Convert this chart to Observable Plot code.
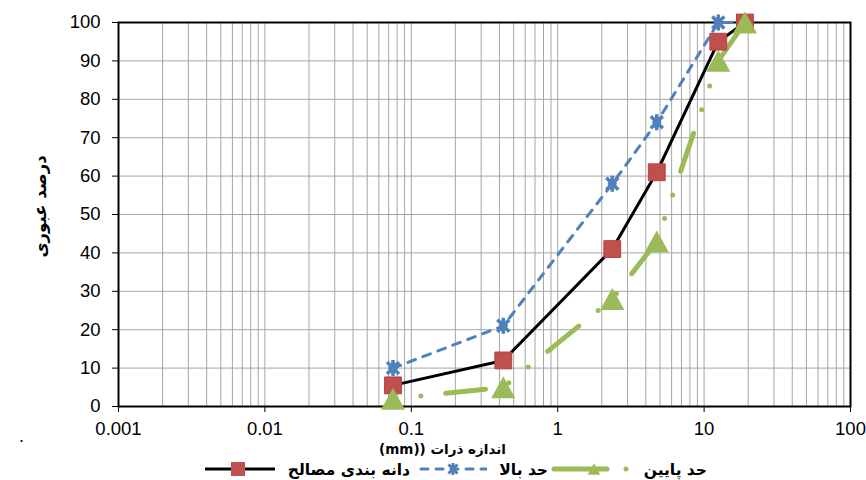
<!DOCTYPE html>
<html><head><meta charset="utf-8">
<script src="https://cdn.jsdelivr.net/npm/d3@7"></script>
<script src="https://cdn.jsdelivr.net/npm/@observablehq/plot@0.6"></script>
<style>
body{margin:0;background:#fff;}
#wrap{position:relative;width:866px;height:480px;overflow:hidden;background:#fff;font-family:"Liberation Sans",Arial,sans-serif;}
#chart{position:absolute;left:0;top:0;}
.lg{position:absolute;top:459px;height:20px;display:flex;align-items:center;}
.lt{position:absolute;top:461px;height:18px;line-height:18px;font-family:"DejaVu Sans",sans-serif;font-weight:bold;font-size:15.5px;direction:rtl;white-space:nowrap;}
#stray{position:absolute;left:19px;top:426px;font-size:18px;}
</style></head><body>
<div id="wrap"><div id="chart"></div><div id="legend"></div><div id="stray">.</div></div>
<script>
// ---- data ----
const sieveSizes = [0.075, 0.425, 2.36, 4.75, 12.5, 19];
const gradation  = [5.5, 12, 41, 61, 95, 100];
const upperLimit = [10, 21, 58, 74, 100, 100];
const lowerLimit = [2, 5, 28, 43, 90, 100];
const seriesNames = ["دانه بندی مصالح", "حد بالا", "حد پایین"];
const xTicks = [0.001, 0.01, 0.1, 1, 10, 100];
const yTicks = [0, 10, 20, 30, 40, 50, 60, 70, 80, 90, 100];
const xTitle = "اندازه ذرات ((mm)";
const yTitle = "درصد عبوری";

const RED = "#C0504D", BLUE = "#4F81BD", GREEN = "#9BBB59";

const gridX = xTicks.slice(0, -1).flatMap(d => [1,2,3,4,5,6,7,8,9].map(k => +(k * d).toPrecision(3))).concat([xTicks[xTicks.length-1]]);

const rows = (vals) => sieveSizes.map((s, i) => ({x: s, y: vals[i]}));
const gData = rows(gradation), uData = rows(upperLimit), lData = rows(lowerLimit);

// custom symbols
const triBox = {draw(ctx, size) {
  const r = Math.sqrt(size / Math.PI);
  const w = r * 2.1, h = r * 1.9;
  ctx.moveTo(0, -h / 2); ctx.lineTo(w / 2, h / 2); ctx.lineTo(-w / 2, h / 2); ctx.closePath();
}};
const starX = {draw(ctx, size) {
  const r = Math.sqrt(size / Math.PI);
  const d = r * 0.75;
  ctx.moveTo(0, -r); ctx.lineTo(0, r);
  ctx.moveTo(-d, -d); ctx.lineTo(d, d);
  ctx.moveTo(-d, d); ctx.lineTo(d, -d);
}};

const chart = Plot.plot({
  width: 866, height: 458,
  marginLeft: 118, marginRight: 16, marginTop: 22, marginBottom: 52,
  style: {fontFamily: "'Liberation Sans', Arial, sans-serif", fontSize: "18.5px", color: "#000", background: "#fff", overflow: "visible"},
  x: {type: "log", domain: [0.001, 100]},
  y: {domain: [0, 100]},
  marks: [
    Plot.ruleX(gridX, {stroke: "#a6a6a6", strokeWidth: 1}),
    Plot.ruleY(yTicks, {stroke: "#a6a6a6", strokeWidth: 1}),
    Plot.axisX(xTicks, {tickSize: 6, tickPadding: 9, tickFormat: d => String(d), label: null, stroke: "#000"}),
    Plot.axisY(yTicks, {tickSize: 6, tickPadding: 12, label: null, stroke: "#000"}),
    Plot.frame({stroke: "#000", strokeWidth: 2}),
    Plot.line(lData, {x: "x", y: "y", stroke: GREEN, strokeWidth: 5, strokeLinecap: "round", strokeDasharray: "40,25,0,25,0,25", strokeDashoffset: 62}),
    Plot.line(uData, {x: "x", y: "y", stroke: BLUE, strokeWidth: 3, strokeLinecap: "round", strokeDasharray: "8,8"}),
    Plot.line(gData, {x: "x", y: "y", stroke: "#000", strokeWidth: 3}),
    Plot.dot(uData, {x: "x", y: "y", r: 5, symbol: "diamond", fill: BLUE}),
    Plot.dot(uData, {x: "x", y: "y", r: 8, symbol: starX, stroke: BLUE, strokeWidth: 3.5, fill: "none"}),
    Plot.dot(gData, {x: "x", y: "y", r: 9.5, symbol: "square", fill: RED, stroke: "#b5433f", strokeWidth: 1}),
    Plot.dot(lData, {x: "x", y: "y", r: 11.5, symbol: triBox, fill: GREEN}),
    Plot.text([xTitle], {text: d => d, frameAnchor: "bottom", dy: 47, dx: -42, fontSize: 13.5, fontWeight: "bold", fontFamily: "DejaVu Sans"}),
    Plot.text([yTitle], {text: d => d, frameAnchor: "left", rotate: -90, dx: -78, dy: 43, fontSize: 16.5, fontWeight: "bold", fontFamily: "DejaVu Sans"})
  ]
});
chart.querySelectorAll("text").forEach(t => {
  if (t.textContent === xTitle) { t.setAttribute("direction", "rtl"); t.style.unicodeBidi = "embed"; }
});
document.getElementById("chart").appendChild(chart);

// ---- legend (HTML) ----
const legend = document.getElementById("legend");
function swatch(left, width, build) {
  const div = document.createElement("div");
  div.className = "lg"; div.style.left = left + "px";
  const svg = d3.create("svg").attr("width", width).attr("height", 20);
  build(svg, width);
  div.appendChild(svg.node());
  legend.appendChild(div);
}
function label(right, text) {
  const s = document.createElement("div");
  s.className = "lt"; s.style.right = (866 - right) + "px"; s.textContent = text;
  legend.appendChild(s);
}
swatch(205, 70, (svg, w) => {
  svg.append("line").attr("x1", 0).attr("x2", w).attr("y1", 10).attr("y2", 10).attr("stroke", "#000").attr("stroke-width", 3);
  svg.append("rect").attr("x", 26).attr("y", 3).attr("width", 14).attr("height", 14).attr("fill", RED);
});
label(410, seriesNames[0]);
swatch(419, 68, (svg, w) => {
  svg.append("line").attr("x1", 2).attr("x2", w).attr("y1", 10).attr("y2", 10).attr("stroke", BLUE).attr("stroke-width", 3).attr("stroke-linecap", "round").attr("stroke-dasharray", "7,8");
  svg.append("path").attr("d", d3.symbol(d3.symbolDiamond, 30)()).attr("transform", "translate(34,10)").attr("fill", BLUE);
  svg.append("path").attr("d", d3.symbol(starX, Math.PI * 36)()).attr("transform", "translate(34,10)").attr("stroke", BLUE).attr("stroke-width", 3);
});
label(548, seriesNames[1]);
swatch(551, 78, (svg, w) => {
  svg.append("line").attr("x1", 3).attr("x2", 56).attr("y1", 10).attr("y2", 10).attr("stroke", GREEN).attr("stroke-width", 5).attr("stroke-linecap", "round");
  svg.append("path").attr("d", d3.symbol(triBox, Math.PI * 36)()).attr("transform", "translate(43,10)").attr("fill", GREEN);
  svg.append("circle").attr("cx", 75).attr("cy", 10).attr("r", 2.5).attr("fill", GREEN);
});
label(707, seriesNames[2]);
</script>
</body></html>
